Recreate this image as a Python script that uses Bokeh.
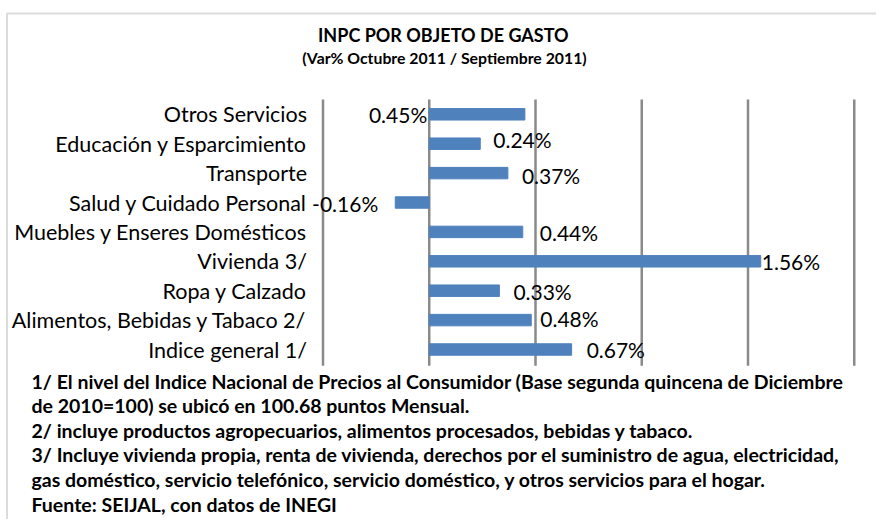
from bokeh.plotting import figure
from bokeh.models import ColumnDataSource, LabelSet, Label, Range1d, BoxAnnotation
from bokeh.embed import file_html
from bokeh.resources import INLINE
from bokeh.core.properties import value, field

# ---- data ----
categories = [
    "Otros Servicios",
    "Educación y Esparcimiento",
    "Transporte",
    "Salud y Cuidado Personal",
    "Muebles y Enseres Domésticos",
    "Vivienda 3/",
    "Ropa y Calzado",
    "Alimentos, Bebidas y Tabaco 2/",
    "Indice general 1/",
]
values = [0.45, 0.24, 0.37, -0.16, 0.44, 1.56, 0.33, 0.48, 0.67]
x_ticks = [-0.5, 0.0, 0.5, 1.0, 1.5, 2.0]

title_text = "INPC POR OBJETO  DE GASTO"
subtitle_text = "(Var% Octubre 2011 / Septiembre 2011)"
footnotes = [
    "1/ El nivel del Indice Nacional de Precios al Consumidor (Base segunda quincena de Diciembre",
    "de 2010=100) se ubicó en 100.68 puntos Mensual.",
    "2/ incluye productos agropecuarios, alimentos procesados, bebidas y tabaco.",
    "3/ Incluye vivienda propia, renta de vivienda, derechos por el suministro de agua, electricidad,",
    "gas doméstico, servicio telefónico, servicio doméstico, y otros servicios para el hogar.",
    "Fuente: SEIJAL, con datos de INEGI",
]

# ---- label placement (pixels), kept apart from the data ----
label_dx = [-2, 13, 14, -17, 17, 1, 14, 9, 15]
label_dy = [0, -4, 2, 1, 1, 0, 1, -2, 0]   # positive = downward
label_align = ["right", "left", "left", "right", "left", "left", "left", "left", "left"]
label_at_base = [True, False, False, False, False, False, False, False, False]

# ---- layout (pixels, from the canvas top-left) ----
W, H = 876, 519
FONT = "Lato"
PX_PER_UNIT_X = 212.5          # pixels per 1 %
X_LEFT_PX = 322.5              # -0.5 gridline
BAND_PX = 29.4                 # pixels per category
TOP_CENTER_PX = 113.8          # centre of first category
n = len(categories)
idx = [n - 1 - i for i in range(n)]

x_start = x_ticks[0] - X_LEFT_PX / PX_PER_UNIT_X
x_end = x_start + W / PX_PER_UNIT_X
y_end = (n - 1) + TOP_CENTER_PX / BAND_PX
y_start = y_end - H / BAND_PX

src = ColumnDataSource(dict(
    y=idx,
    cat=categories,
    val=values,
    lx=[0.0 if b else v for v, b in zip(values, label_at_base)],
    txt=[f"{v:.2f}%" for v in values],
    dx=label_dx,
    dy=[-d for d in label_dy],
    align=label_align,
))

p = figure(
    width=W, height=H,
    x_range=Range1d(x_start, x_end), y_range=Range1d(y_start, y_end),
    output_backend="svg", toolbar_location=None,
    x_axis_location=None, y_axis_location=None,
    min_border=0,
)
p.outline_line_color = None
p.background_fill_color = "white"
p.border_fill_color = "white"
p.grid.visible = False

# vertical gridlines over the category band area
p.segment(x0=x_ticks, x1=x_ticks, y0=[-0.55] * len(x_ticks), y1=[n - 0.5] * len(x_ticks),
          line_color="#8a8a8a", line_width=2.5)

# bars
p.hbar(y="y", left=0, right="val", height=0.39, source=src,
       fill_color="#4F81BD", line_color="#4F81BD")

# category labels
p.text(x=x_ticks[0], y="y", text="cat", source=src, x_offset=-16,
       text_align="right", text_baseline="middle",
       text_font=value(FONT), text_font_size="21.5px", text_color="black")

# value labels
p.add_layout(LabelSet(x="lx", y="y", text="txt", source=src,
                      x_offset="dx", y_offset="dy",
                      text_align=field("align"), text_baseline="middle",
                      text_font=value(FONT), text_font_size="21px", text_color="black"))

# chart border (top and left edges visible)
p.add_layout(BoxAnnotation(left=6.5, right=W + 50, top=H - 13, bottom=-60,
                           left_units="screen", right_units="screen",
                           top_units="screen", bottom_units="screen",
                           fill_alpha=0, line_color="#8c8c8c", line_width=2))

p.add_layout(Label(x=445, y=H - 34, x_units="screen", y_units="screen",
                   text=title_text, text_align="center", text_baseline="middle",
                   text_font=FONT, text_font_style="bold",
                   text_font_size="18px", text_color="black"))
p.add_layout(Label(x=444, y=H - 57, x_units="screen", y_units="screen",
                   text=subtitle_text, text_align="center", text_baseline="middle",
                   text_font=FONT, text_font_style="bold",
                   text_font_size="15.8px", text_color="black"))

foot_y = [381, 405, 429.5, 454, 479, 504]
for t, yy in zip(footnotes, foot_y):
    p.add_layout(Label(x=31, y=H - yy, x_units="screen", y_units="screen",
                       text=t, text_align="left", text_baseline="middle",
                       text_font=FONT, text_font_style="bold",
                       text_font_size="19.5px", text_color="black"))

open("out.html", "w").write(file_html(p, INLINE))
